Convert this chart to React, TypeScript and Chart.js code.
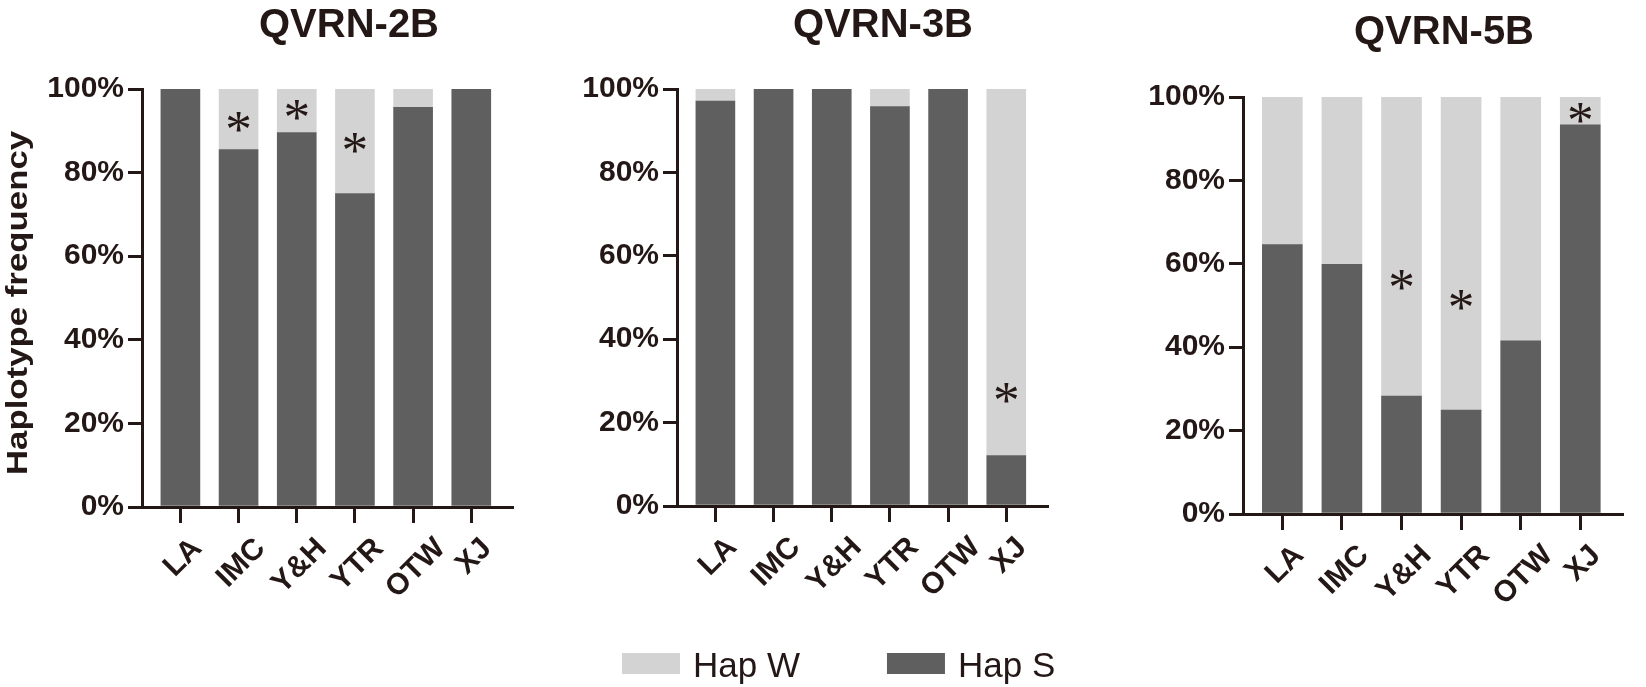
import React, { useEffect, useRef } from 'react';
import { Chart, registerables } from 'chart.js';

Chart.register(...registerables);

// ---------------- data ----------------
const categories = ['LA', 'IMC', 'Y&H', 'YTR', 'OTW', 'XJ'];
const panelTitles = ['QVRN-2B', 'QVRN-3B', 'QVRN-5B'];
const seriesLabels = ['Hap W', 'Hap S'];
const yTickValues = [0, 20, 40, 60, 80, 100];
const yAxisTitle = 'Haplotype frequency';

const hapS_2B = [100, 85.5, 89.6, 75.0, 95.6, 100];
const hapW_2B = [0, 14.5, 10.4, 25.0, 4.4, 0];
const hapS_3B = [97.1, 100, 100, 95.8, 100, 12.1];
const hapW_3B = [2.9, 0, 0, 4.2, 0, 87.9];
const hapS_5B = [64.6, 59.9, 28.3, 24.9, 41.5, 93.3];
const hapW_5B = [35.4, 40.1, 71.7, 75.1, 58.5, 6.7];

// significance marks (y position of "*" per category, null = none)
const star_2B = [null, 92.2, 95.0, 87.2, null, null];
const star_3B = [null, null, null, null, null, 27.0];
const star_5B = [null, null, 56.1, 51.3, null, 96.1];

const panelS = [hapS_2B, hapS_3B, hapS_5B];
const panelW = [hapW_2B, hapW_3B, hapW_5B];
const panelStars = [star_2B, star_3B, star_5B];

// ---------------- style / layout ----------------
const W = 1646;
const H = 687;
const Y_W = 100;
const X_H = 120;
const FONT = '"Liberation Sans", Arial, sans-serif';
const SERIF = '"Liberation Serif", "Times New Roman", serif';
const INK = '#231815';
const DARK = '#5f5f5f';
const LIGHT = '#d3d3d3';
const TICK_FONT = 30;

const PANELS = [
  { left: 142, right: 512, top: 89, bottom: 507, titleX: 349, titleY: 22.5, barW: 39, yTitle: true, legend: false },
  { left: 677, right: 1047, top: 89, bottom: 506, titleX: 883, titleY: 22.5, barW: 39, yTitle: false, legend: true },
  { left: 1243, right: 1622, top: 97, bottom: 514, titleX: 1444, titleY: 30, barW: 40, yTitle: false, legend: false },
];

const decorPlugin = {
  id: 'decor',
  afterDraw(chart: any, _args: any, opts: any) {
    const ctx = chart.ctx;
    const area = chart.chartArea;
    const xs = chart.scales.x;
    const ys = chart.scales.y;
    ctx.save();
    ctx.fillStyle = INK;

    // title
    const tSize = 40;
    ctx.font = `bold ${tSize}px ${FONT}`;
    ctx.textAlign = 'center';
    ctx.textBaseline = 'alphabetic';
    ctx.fillText(opts.title, opts.titleX, opts.titleY + (tSize * 0.716) / 2);

    // x category labels (rotated 45°, bounding box centred under each tick)
    ctx.font = `bold ${TICK_FONT}px ${FONT}`;
    ctx.textAlign = 'right';
    const cap = TICK_FONT * 0.716;
    xs.ticks.forEach((t: any) => {
      const label = categories[Math.round(t.value)];
      if (!label) return;
      const w = ctx.measureText(label).width;
      const px = xs.getPixelForValue(t.value);
      const ax = px + w * 0.3535 + 1;
      const ay = area.bottom + 35;
      ctx.save();
      ctx.translate(ax, ay);
      ctx.rotate(-Math.PI / 4);
      ctx.fillText(label, 0, cap / 2);
      ctx.restore();
    });

    // stars
    const stars: (number | null)[] = opts.stars || [];
    ctx.textAlign = 'center';
    ctx.font = `40px ${SERIF}`;
    let m = ctx.measureText('*');
    const h = m.actualBoundingBoxAscent + m.actualBoundingBoxDescent;
    const sSize = (40 * 20) / h;
    ctx.font = `${sSize}px ${SERIF}`;
    m = ctx.measureText('*');
    stars.forEach((v, i) => {
      if (v === null || v === undefined) return;
      const px = xs.getPixelForValue(i);
      const py = ys.getPixelForValue(v);
      ctx.fillText('*', px, py + (m.actualBoundingBoxAscent - m.actualBoundingBoxDescent) / 2);
    });

    // y axis title
    if (opts.yTitle) {
      ctx.save();
      ctx.translate(19, 303);
      ctx.rotate(-Math.PI / 2);
      ctx.scale(1.2, 1);
      ctx.font = `bold 29px ${FONT}`;
      ctx.textAlign = 'center';
      ctx.textBaseline = 'middle';
      ctx.fillText(opts.yTitle, 0, 0);
      ctx.restore();
    }

    // legend
    if (opts.legend) {
      const ds = chart.data.datasets.slice().reverse();
      let x = area.left - 55;
      const boxTop = area.bottom + 147;
      ctx.font = `35px ${FONT}`;
      ctx.textAlign = 'left';
      ctx.textBaseline = 'alphabetic';
      ds.forEach((d: any) => {
        ctx.fillStyle = d.backgroundColor;
        ctx.fillRect(x, boxTop, 58, 21);
        x += 58 + 13;
        ctx.fillStyle = INK;
        ctx.fillText(d.label, x, boxTop + 24);
        x += ctx.measureText(d.label).width + 87;
      });
    }
    ctx.restore();
  },
};

function Panel({ idx }: { idx: number }) {
  const ref = useRef<HTMLCanvasElement | null>(null);
  useEffect(() => {
    const p = PANELS[idx];
    const chart = new Chart(ref.current as HTMLCanvasElement, {
      type: 'bar',
      data: {
        datasets: [
          {
            label: seriesLabels[1],
            data: panelS[idx].map((v, i) => ({ x: i, y: v })),
            backgroundColor: DARK,
            borderWidth: 0,
            barThickness: p.barW,
          },
          {
            label: seriesLabels[0],
            data: panelW[idx].map((v, i) => ({ x: i, y: v })),
            backgroundColor: LIGHT,
            borderWidth: 0,
            barThickness: p.barW,
          },
        ],
      },
      options: {
        responsive: false,
        animation: false,
        events: [],
        layout: {
          padding: {
            left: p.left - Y_W,
            right: W - p.right,
            top: p.top,
            bottom: H - p.bottom - X_H,
          },
        },
        plugins: {
          legend: { display: false },
          title: { display: false },
          tooltip: { enabled: false },
          decor: {
            title: panelTitles[idx],
            titleX: p.titleX,
            titleY: p.titleY,
            stars: panelStars[idx],
            yTitle: p.yTitle ? yAxisTitle : null,
            legend: p.legend,
          },
        } as any,
        scales: {
          x: {
            type: 'linear',
            stacked: true,
            min: -0.66,
            max: 5.7,
            offset: false,
            afterBuildTicks: (s: any) => {
              s.ticks = categories.map((_, i) => ({ value: i }));
            },
            afterFit: (s: any) => {
              s.height = X_H;
            },
            ticks: {
              display: false,
              autoSkip: false,
              callback: (v: any) => categories[Math.round(Number(v))] ?? '',
            },
            grid: { offset: false, drawOnChartArea: false, drawTicks: true, tickLength: 16, lineWidth: 3, color: INK },
            border: { display: true, width: 3, color: INK },
          },
          y: {
            stacked: true,
            min: 0,
            max: 100,
            afterBuildTicks: (s: any) => {
              s.ticks = yTickValues.map((v) => ({ value: v }));
            },
            afterFit: (s: any) => {
              s.width = Y_W;
            },
            ticks: {
              padding: 4,
              color: INK,
              font: { family: FONT, size: TICK_FONT, weight: 'bold' },
              callback: (v: any) => `${v}%`,
            },
            grid: { offset: false, drawOnChartArea: false, drawTicks: true, tickLength: 14, lineWidth: 3, color: INK },
            border: { display: true, width: 3, color: INK },
          },
        } as any,
      },
      plugins: [decorPlugin],
    } as any);
    return () => chart.destroy();
  }, [idx]);
  return (
    <canvas
      ref={ref}
      width={W}
      height={H}
      style={{ position: 'absolute', left: 0, top: 0, width: W, height: H }}
    />
  );
}

export default function App() {
  return (
    <div style={{ position: 'absolute', left: 0, top: 0, width: W, height: H, background: '#fff' }}>
      <Panel idx={0} />
      <Panel idx={1} />
      <Panel idx={2} />
    </div>
  );
}
